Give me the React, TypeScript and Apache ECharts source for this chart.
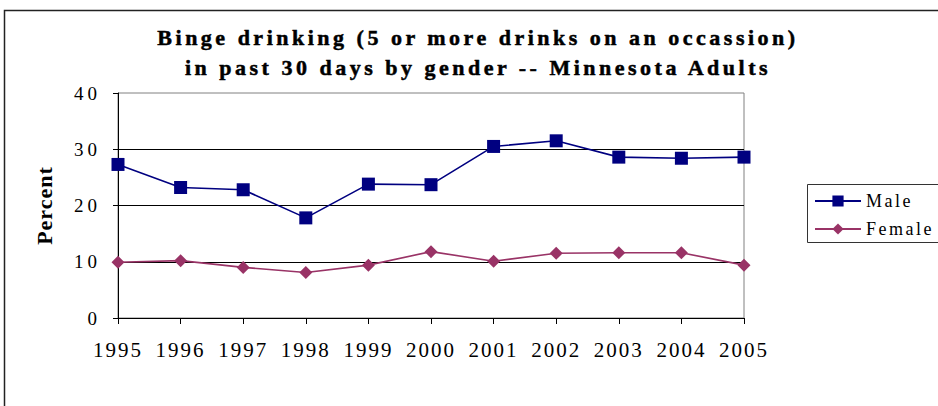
import React, { useEffect, useRef } from "react";
import * as echarts from "echarts";

const years = ["1995", "1996", "1997", "1998", "1999", "2000", "2001", "2002", "2003", "2004", "2005"];
const maleValues = [27.3, 23.2, 22.8, 17.8, 23.8, 23.7, 30.5, 31.5, 28.6, 28.4, 28.6];
const femaleValues = [9.9, 10.2, 9.0, 8.1, 9.4, 11.8, 10.1, 11.5, 11.6, 11.6, 9.4];
const seriesNames = ["Male", "Female"];
const titleLines = [
  "Binge drinking (5 or more drinks on an occassion)",
  "in past 30 days by gender -- Minnesota Adults",
];
const yAxisName = "Percent";

const css = `
#chartbox text[style*="xTitleF"]{letter-spacing:3.5px}
#chartbox text[style*="xCatF"]{letter-spacing:2px}
#chartbox text[style*="xValF"]{letter-spacing:4px}
#chartbox text[style*="xNameF"]{letter-spacing:1px}
#chartbox text[style*="xLegF"]{letter-spacing:2.5px}
`;

export default function App() {
  const ref = useRef<HTMLDivElement>(null);
  useEffect(() => {
    if (!ref.current) return;
    const chart = echarts.init(ref.current, undefined, { renderer: "svg" });
    chart.setOption({
      animation: false,
      backgroundColor: "#ffffff",
      title: {
        text: titleLines.join("\n"),
        left: 478,
        top: 22,
        textAlign: "center",
        padding: 0,
        textStyle: {
          fontFamily: "xTitleF, Liberation Serif, serif",
          fontSize: 22,
          fontWeight: "bold",
          color: "#000",
          lineHeight: 30,
          textBorderColor: "#000",
          textBorderWidth: 0.5,
        },
      },
      legend: {
        orient: "vertical",
        left: 814,
        top: 192,
        itemWidth: 46,
        itemHeight: 14,
        itemGap: 10,
        padding: 0,
        data: seriesNames,
        textStyle: { fontFamily: "xLegF, Liberation Serif, serif", fontSize: 18, color: "#000" },
      },
      grid: {
        left: 118,
        top: 93,
        right: 194,
        bottom: 88,
        show: true,
        borderColor: "#808080",
        borderWidth: 1,
        backgroundColor: "transparent",
      },
      xAxis: {
        type: "category",
        data: years,
        boundaryGap: false,
        axisLine: { lineStyle: { color: "#000", width: 1 } },
        axisTick: { show: true, alignWithLabel: true, length: 6, lineStyle: { color: "#000" } },
        axisLabel: {
          margin: 21,
          fontFamily: "xCatF, Liberation Serif, serif",
          fontSize: 21,
          color: "#000",
        },
        splitLine: { show: false },
      },
      yAxis: {
        type: "value",
        min: 0,
        max: 40,
        interval: 10,
        name: yAxisName,
        nameLocation: "middle",
        nameGap: 63,
        nameTextStyle: {
          fontFamily: "xNameF, Liberation Serif, serif",
          fontSize: 22,
          fontWeight: "bold",
          color: "#000",
        },
        axisLine: { show: true, lineStyle: { color: "#000", width: 1 } },
        axisTick: { show: true, length: 5, lineStyle: { color: "#000" } },
        axisLabel: {
          margin: 17,
          fontFamily: "xValF, Liberation Serif, serif",
          fontSize: 19,
          color: "#000",
        },
        splitLine: { show: true, showMaxLine: false, lineStyle: { color: "#000", width: 1 } },
      },
      series: [
        {
          name: seriesNames[0],
          type: "line",
          data: maleValues,
          symbol: "rect",
          symbolSize: 13,
          itemStyle: { color: "#000080" },
          lineStyle: { color: "#000080", width: 1.6 },
        },
        {
          name: seriesNames[1],
          type: "line",
          data: femaleValues,
          symbol: "diamond",
          symbolSize: 13,
          itemStyle: { color: "#993366" },
          lineStyle: { color: "#993366", width: 1.6 },
        },
      ],
      graphic: [
        {
          type: "rect",
          shape: { x: 4.5, y: 10.5, width: 1000, height: 1000 },
          style: { fill: "none", stroke: "#222", lineWidth: 1.5 },
          silent: true,
        },
        {
          type: "rect",
          shape: { x: 807.5, y: 184.5, width: 200, height: 58 },
          style: { fill: "none", stroke: "#333", lineWidth: 1 },
          silent: true,
        },
      ],
    });
    return () => chart.dispose();
  }, []);
  return (
    <div id="chartbox">
      <style>{css}</style>
      <div
        ref={ref}
        style={{ position: "fixed", left: 0, top: 0, width: 938, height: 406 }}
      />
    </div>
  );
}
